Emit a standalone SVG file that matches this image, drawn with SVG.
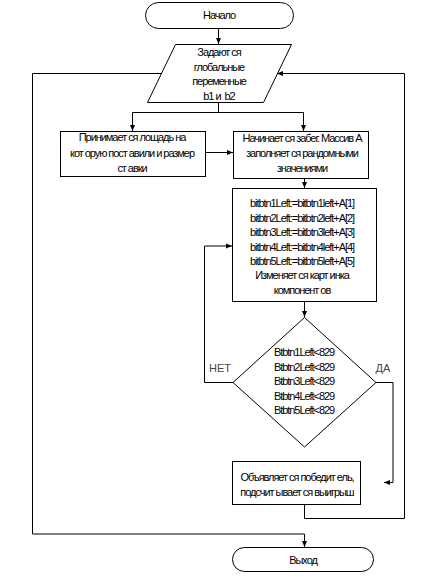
<svg xmlns="http://www.w3.org/2000/svg" width="427" height="579" viewBox="0 0 427 579">
<style>
.s{fill:#fff;stroke:#000;stroke-width:1}
.c{fill:none;stroke:#000;stroke-width:1}
.t{font-family:"Liberation Sans",Arial,sans-serif;font-size:11px;letter-spacing:-1.05px;fill:#000;text-anchor:middle}
.l{font-family:"Liberation Sans",Arial,sans-serif;font-size:11px;fill:#444;text-anchor:middle}
</style>
<defs>
<marker id="a" viewBox="0 0 6 6" refX="6" refY="3" markerWidth="6" markerHeight="6" markerUnits="userSpaceOnUse" orient="auto">
<path d="M0,0.5 L6,3 L0,5.5 Z" fill="#000"/>
</marker>
</defs>
<g id="connectors">
<path class="c" d="M218.5,28 V44" marker-end="url(#a)"/>
<path class="c" d="M218.5,102 V112.5 H132.5 V131" marker-end="url(#a)"/>
<path class="c" d="M218.5,112.5 H303.5 V131" marker-end="url(#a)"/>
<path class="c" d="M205,152.5 H233" marker-end="url(#a)"/>
<path class="c" d="M304.5,179 V188" marker-end="url(#a)"/>
<path class="c" d="M304.5,302 V317" marker-end="url(#a)"/>
<path class="c" d="M233,382.5 H204.5 V246 H232" marker-end="url(#a)"/>
<path class="c" d="M376,382.5 H393 V482.5 H384" marker-end="url(#a)"/>
<path class="c" d="M304.5,504 V518.5 H404.5 V73.5 H277" marker-end="url(#a)"/>
<path class="c" d="M161,73.5 H32.5 V534 H304.5 V547" marker-end="url(#a)"/>
</g>
<g id="start">
<rect class="s" x="145.5" y="2.5" width="148" height="26" rx="13"/>
<text class="t" x="219" y="19">Начало</text>
</g>
<g id="input">
<polygon class="s" points="175.5,44.5 291.5,44.5 263.5,102.5 147.5,102.5"/>
<text class="t" x="219" y="56">Задают ся</text>
<text class="t" x="219" y="71">глобальные</text>
<text class="t" x="219" y="85">переменные</text>
<text class="t" x="219" y="100">b1 и&#160; b2</text>
</g>
<g id="bet">
<rect class="s" x="60.5" y="131.5" width="145" height="45"/>
<text class="t" x="132" y="141">Принимает ся лощадь на</text>
<text class="t" x="132" y="157">кот орую пост авили и размер</text>
<text class="t" x="132" y="172">ст авки</text>
</g>
<g id="race">
<rect class="s" x="233.5" y="131.5" width="135" height="47"/>
<text class="t" x="302" y="142">Начинает ся забег. Массив А</text>
<text class="t" x="302" y="157">заполняет ся рандомными</text>
<text class="t" x="302" y="172">значениями</text>
</g>
<g id="move">
<rect class="s" x="232.5" y="188.5" width="144" height="113"/>
<text class="t" x="302" y="207">bitbtn1Left:=bitbtn1left+A[1]</text>
<text class="t" x="302" y="222">bitbtn2Left:=bitbtn2left+A[2]</text>
<text class="t" x="302" y="236">bitbtn3Left:=bitbtn3left+A[3]</text>
<text class="t" x="302" y="251">bitbtn4Left:=bitbtn4left+A[4]</text>
<text class="t" x="302" y="265">bitbtn5Left:=bitbtn5left+A[5]</text>
<text class="t" x="302" y="279">Изменяет ся карт инка</text>
<text class="t" x="302" y="294">компонент ов</text>
</g>
<g id="check">
<polygon class="s" points="304.5,317.5 376,382.5 304.5,447 233,382.5"/>
<text class="t" x="304" y="356">Btbtn1Left&lt;829</text>
<text class="t" x="304" y="371">Btbtn2Left&lt;829</text>
<text class="t" x="304" y="385">Btbtn3Left&lt;829</text>
<text class="t" x="304" y="400">Btbtn4Left&lt;829</text>
<text class="t" x="304" y="414">Btbtn5Left&lt;829</text>
<text class="l" x="220" y="372">НЕТ</text>
<text class="l" x="383" y="372">ДА</text>
</g>
<g id="winner">
<rect class="s" x="232.5" y="461.5" width="128" height="43"/>
<text class="t" x="297" y="481">Объявляет ся победит ель,</text>
<text class="t" x="297" y="496">подсчит ывает ся выигрыш</text>
</g>
<g id="end">
<rect class="s" x="232.5" y="547.5" width="141" height="24" rx="12"/>
<text class="t" x="303" y="564">Выход</text>
</g>
</svg>
